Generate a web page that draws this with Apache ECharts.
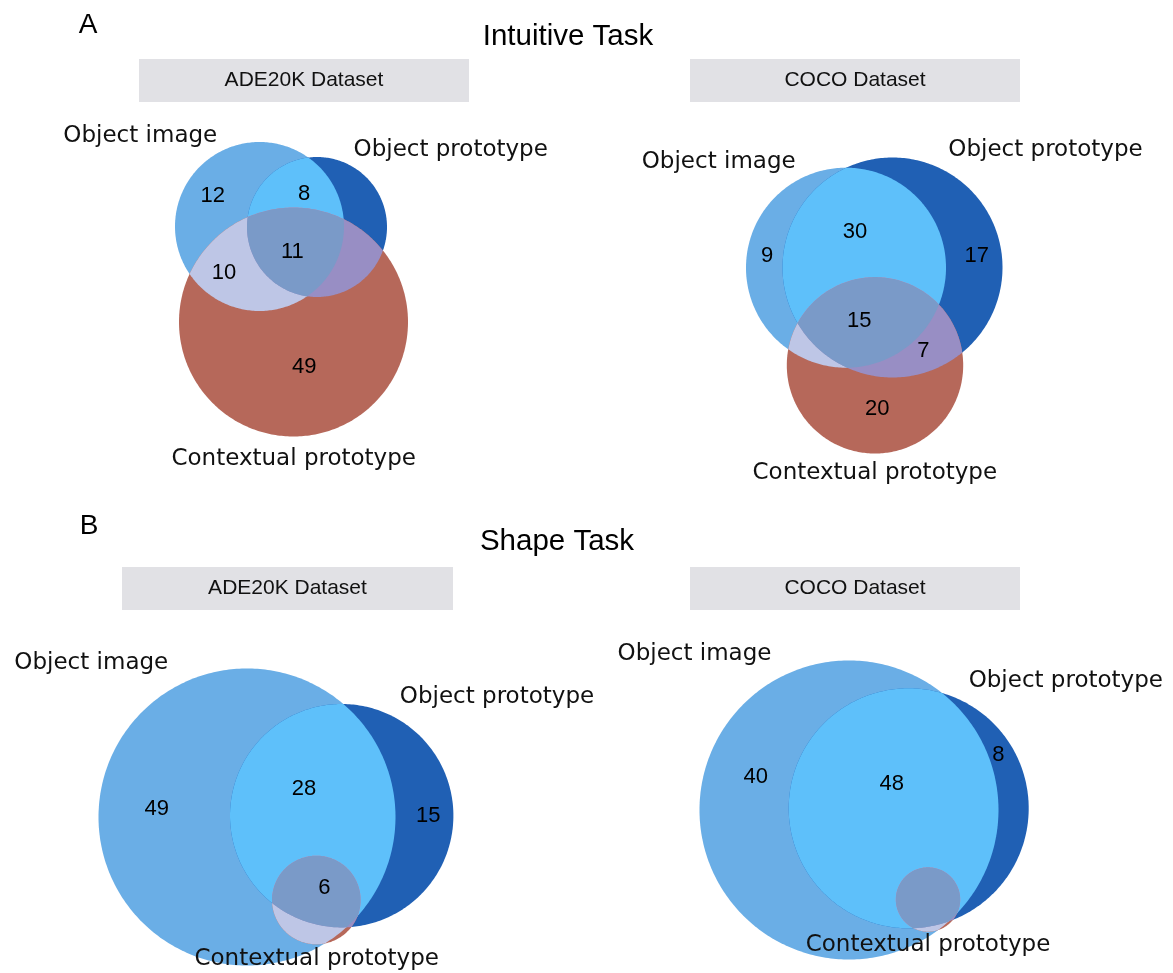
<!DOCTYPE html>
<html>
<head>
<meta charset="utf-8">
<script src="https://cdn.jsdelivr.net/npm/echarts/dist/echarts.min.js"></script>
<style>
  html, body { margin: 0; padding: 0; background: #ffffff; }
  #chart { width: 1173px; height: 973px; }
</style>
</head>
<body>
<div id="chart"></div>
<script>
// Sets: A = Object image, B = Object prototype, C = Contextual prototype
const setNames = ['Object image', 'Object prototype', 'Contextual prototype'];
// Venn regions, in this fixed order: A only, B only, C only, A&B, A&C, B&C, A&B&C
const regionNames = ['A', 'B', 'C', 'AB', 'AC', 'BC', 'ABC'];
const taskNames = ['Intuitive Task', 'Shape Task'];
const panelLetters = ['A', 'B'];
const datasetNames = ['ADE20K Dataset', 'COCO Dataset', 'ADE20K Dataset', 'COCO Dataset'];

// Region counts (null = region drawn without a number)
const intuitiveAde = [12, null, 49, 8, 10, null, 11];
const intuitiveCoco = [9, 17, 20, 30, null, 7, 15];
const shapeAde = [49, 15, null, 28, null, null, 6];
const shapeCoco = [40, 8, null, 48, null, null, null];
const panelCounts = [intuitiveAde, intuitiveCoco, shapeAde, shapeCoco];

// Fill colour for each region
const regionColors = ['#6aaee6', '#2060b4', '#b6685a', '#5ec0fa', '#bec6e6', '#988ec4', '#7a9ac8'];
// Which circles bound each region (intersection of these circles)
const regionMasks = [[0], [1], [2], [0, 1], [0, 2], [1, 2], [0, 1, 2]];

// ---- Layout: panel boxes and Venn geometry in panel units (y grows downward) ----
const panelBoxes = [
  { left: 40, top: 110, width: 520, height: 370 },
  { left: 610, top: 110, width: 540, height: 370 },
  { left: 0, top: 630, width: 600, height: 343 },
  { left: 600, top: 630, width: 573, height: 343 }
];
const panelCircles = [
  [[219.5, 116.5, 84.5], [277, 117, 70], [253.5, 212, 114.5]],
  [[236, 157.7, 100], [282.5, 157.5, 110], [265, 255.3, 88.2]],
  [[247, 187, 148.5], [341.7, 185.7, 111.7], [316.3, 270, 44.3]],
  [[249, 180, 149.5], [308.7, 178.3, 120], [328, 269.5, 32.2]]
];
const panelCountAnchors = [
  [[172.7, 86], null, [264.3, 256.7], [264, 84], [184, 162.7], null, [252.3, 141.7]],
  [[157, 146], [366.7, 146], [267.3, 299.3], [245, 121.7], null, [313.3, 240.7], [249.3, 211]],
  [[156.7, 179], [428.3, 186], null, [304, 159.3], null, null, [324.3, 258.3]],
  [[155.7, 147.3], [398.3, 125], null, [291.7, 154.3], null, null, null]
];
const panelSetAnchors = [
  [[100.3, 26], [410.7, 40], [253.7, 349]],
  [[108.7, 52], [435.5, 40.5], [264.8, 363.5]],
  [[91.3, 33], [497, 67], [316.7, 329.5]],
  [[94.5, 24], [465.8, 51], [328, 315.5]]
];
const headerBoxes = [
  { x: 139, y: 59, w: 330, h: 43 },
  { x: 690, y: 59, w: 330, h: 43 },
  { x: 122, y: 567, w: 331, h: 43 },
  { x: 690, y: 567, w: 330, h: 43 }
];
const taskTitlePos = [[568, 37], [557, 542]];
const letterPos = [[88, 25], [89, 526]];

// ---- Geometry helpers: circles as polygons, convex clipping for intersections ----
const SEG = 360;
function circlePolygon(c) {
  const pts = [];
  for (let k = 0; k < SEG; k++) {
    const t = 2 * Math.PI * k / SEG;
    pts.push([c[0] + c[2] * Math.cos(t), c[1] + c[2] * Math.sin(t)]);
  }
  return pts;
}
function side(a, b, p) {
  return (b[0] - a[0]) * (p[1] - a[1]) - (b[1] - a[1]) * (p[0] - a[0]);
}
function clipConvex(subject, clipPoly) {
  let out = subject;
  for (let i = 0; i < clipPoly.length && out.length; i++) {
    const a = clipPoly[i], b = clipPoly[(i + 1) % clipPoly.length];
    const input = out;
    out = [];
    for (let j = 0; j < input.length; j++) {
      const cur = input[j], prev = input[(j + input.length - 1) % input.length];
      const dc = side(a, b, cur), dp = side(a, b, prev);
      if (dc >= 0) {
        if (dp < 0) {
          const t = dp / (dp - dc);
          out.push([prev[0] + t * (cur[0] - prev[0]), prev[1] + t * (cur[1] - prev[1])]);
        }
        out.push(cur);
      } else if (dp >= 0) {
        const t = dp / (dp - dc);
        out.push([prev[0] + t * (cur[0] - prev[0]), prev[1] + t * (cur[1] - prev[1])]);
      }
    }
  }
  return out;
}
function regionPolygon(panel, region) {
  const polys = regionMasks[region].map(ci => circlePolygon(panelCircles[panel][ci]));
  let poly = polys[0];
  for (let k = 1; k < polys.length; k++) poly = clipConvex(poly, polys[k]);
  return poly;
}

// ---- Build the option ----
const grids = [], xAxes = [], yAxes = [], series = [];
panelBoxes.forEach((box, i) => {
  grids.push(Object.assign({}, box));
  xAxes.push({ type: 'value', gridIndex: i, min: 0, max: box.width, show: false });
  yAxes.push({ type: 'value', gridIndex: i, min: 0, max: box.height, inverse: true, show: false });

  // Paint order: whole circles, then pairwise overlaps, then the triple overlap
  series.push({
    type: 'custom',
    name: 'venn-' + i,
    xAxisIndex: i,
    yAxisIndex: i,
    silent: true,
    z: 1,
    data: regionNames.map((_, r) => [r, 0]),
    renderItem: function (params, api) {
      const r = api.value(0);
      const poly = regionPolygon(i, r);
      if (poly.length < 3) return null;
      return {
        type: 'polygon',
        shape: { points: poly.map(p => api.coord(p)) },
        style: { fill: regionColors[r], stroke: null }
      };
    }
  });

  // Region counts
  const counts = panelCounts[i];
  const countData = [];
  counts.forEach((v, r) => {
    const pos = panelCountAnchors[i][r];
    if (v !== null && pos) countData.push([pos[0], pos[1], v]);
  });
  series.push({
    type: 'scatter',
    xAxisIndex: i,
    yAxisIndex: i,
    silent: true,
    z: 3,
    symbolSize: 1,
    itemStyle: { color: 'rgba(0,0,0,0)', opacity: 1 },
    data: countData,
    label: {
      show: true,
      position: 'inside',
      opacity: 1,
      formatter: p => String(p.value[2]),
      fontFamily: '"Liberation Sans", Arial, sans-serif',
      fontSize: 22,
      color: '#000000',
      textBorderWidth: 0
    }
  });

  // Set names
  series.push({
    type: 'scatter',
    xAxisIndex: i,
    yAxisIndex: i,
    silent: true,
    z: 3,
    symbolSize: 1,
    itemStyle: { color: 'rgba(0,0,0,0)', opacity: 1 },
    data: panelSetAnchors[i].map((p, s) => [p[0], p[1], s]),
    label: {
      show: true,
      position: 'inside',
      opacity: 1,
      formatter: p => setNames[p.value[2]],
      fontFamily: '"DejaVu Sans", sans-serif',
      fontSize: 23,
      color: '#111111',
      textBorderWidth: 0
    }
  });
});

// Headers: panel letters, task titles, dataset strips
const graphics = [];
panelLetters.forEach((t, k) => {
  graphics.push({
    type: 'text',
    style: {
      text: t, x: letterPos[k][0], y: letterPos[k][1],
      font: '28px "Liberation Sans", Arial, sans-serif',
      fill: '#000000',
      textAlign: 'center', textVerticalAlign: 'middle',
      align: 'center', verticalAlign: 'middle'
    }
  });
});
taskNames.forEach((t, k) => {
  graphics.push({
    type: 'text',
    style: {
      text: t, x: taskTitlePos[k][0], y: taskTitlePos[k][1],
      font: '29.5px "Liberation Sans", Arial, sans-serif',
      fill: '#000000',
      textAlign: 'center', textVerticalAlign: 'middle',
      align: 'center', verticalAlign: 'middle'
    }
  });
});
headerBoxes.forEach((b, k) => {
  graphics.push({
    type: 'rect',
    shape: { x: b.x, y: b.y, width: b.w, height: b.h },
    style: { fill: '#e1e1e5' }
  });
  graphics.push({
    type: 'text',
    style: {
      text: datasetNames[k], x: b.x + b.w / 2, y: b.y + b.h / 2,
      font: '21px "Liberation Sans", Arial, sans-serif',
      fill: '#111111',
      textAlign: 'center', textVerticalAlign: 'middle',
      align: 'center', verticalAlign: 'middle'
    }
  });
});

const chart = echarts.init(document.getElementById('chart'), null, { renderer: 'canvas' });
chart.setOption({
  animation: false,
  backgroundColor: '#ffffff',
  grid: grids,
  xAxis: xAxes,
  yAxis: yAxes,
  graphic: { elements: graphics },
  series: series
});
</script>
</body>
</html>
